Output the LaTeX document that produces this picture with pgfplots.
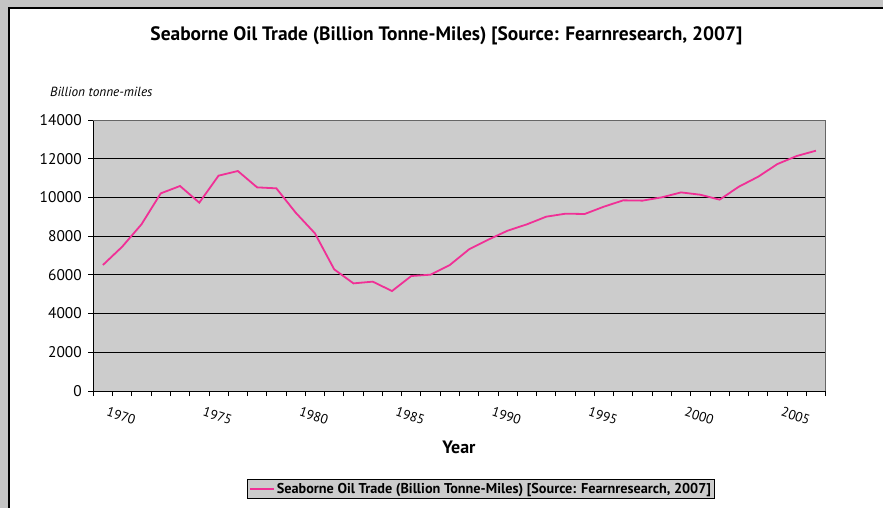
\documentclass[border=0pt]{standalone}
\usepackage{fontspec}
\setmainfont{PT Sans}
\usepackage{pgfplots}
\pgfplotsset{compat=1.18}
\definecolor{linepink}{RGB}{240,48,150}
\definecolor{plotgray}{RGB}{204,204,204}
\definecolor{framegray}{RGB}{196,196,196}
\begin{document}
\begin{tikzpicture}
\useasboundingbox (0bp,0bp) rectangle (883bp,-508bp);
\fill[framegray] (0bp,0bp) rectangle (883bp,-508bp);
\fill[white] (9bp,-8bp) rectangle (883bp,-508bp);
\draw[black,line width=1.8bp] (8.6bp,-508bp) -- (8.6bp,-7.6bp) -- (883bp,-7.6bp);
\node[font=\fontsize{19.5}{22}\selectfont\bfseries] at (446.5bp,-36bp) {Seaborne Oil Trade (Billion Tonne-Miles) [Source: Fearnresearch, 2007]};
\node[font=\fontsize{13.3}{15}\selectfont\itshape, anchor=west, inner sep=0pt] at (50bp,-92bp) {Billion tonne-miles};
\node[font=\fontsize{18}{21}\selectfont\bfseries] at (459bp,-447bp) {Year};
\begin{axis}[
 at={(93.3bp,-391bp)}, anchor=south west, scale only axis,
 width=732.3bp, height=271bp,
 xmin=1968.5, xmax=2006.5, ymin=0, ymax=14000,
 axis background/.style={fill=plotgray},
 axis x line*=bottom, axis y line*=left,
 axis line style={black, line width=0.9bp},
 tick align=outside, major tick length=5bp,
 tick style={black, line width=0.8bp},
 ytick={0,2000,...,14000},
 ymajorgrids, grid style={black, line width=0.8bp},
 scaled y ticks=false,
 /pgf/number format/assume math mode=true,
 y tick label style={/pgf/number format/set thousands separator={}, font=\fontsize{15.5}{17}\selectfont, xshift=-3bp},
 xtick={1968.5,1969.5,...,2006.5},
 xticklabels={},
 extra x ticks={1970,1975,1980,1985,1990,1995,2000,2005},
 extra x tick labels={1970,1975,1980,1985,1990,1995,2000,2005},
 extra x tick style={major tick length=0pt, xticklabel style={yshift=-25bp, xshift=-1bp, rotate=-18, anchor=center, font=\fontsize{13.5}{15}\selectfont}},
 legend style={at={(0.5294,-0.3616)}, anchor=center, fill=plotgray, draw=black, line width=0.8bp, font=\fontsize{14.3}{16}\selectfont\bfseries, inner sep=1.5bp},
 legend image code/.code={\draw[#1] (0bp,0bp) -- (24bp,0bp);},
 clip=false,
]
\draw[gray!80!black, line width=0.8bp] (rel axis cs:0,1) -- (rel axis cs:1,1) -- (rel axis cs:1,0);
\addplot[linepink, line width=1.8bp] coordinates {
(1969,6510) (1970,7455) (1971,8610) (1972,10210) (1973,10590) (1974,9730)
(1975,11125) (1976,11365) (1977,10520) (1978,10470) (1979,9215) (1980,8145)
(1981,6285) (1982,5560) (1983,5650) (1984,5165) (1985,5940) (1986,6010)
(1987,6510) (1988,7320) (1989,7820) (1990,8283) (1991,8610) (1992,9005)
(1993,9160) (1994,9145) (1995,9525) (1996,9850) (1997,9835) (1998,10005)
(1999,10260) (2000,10140) (2001,9885) (2002,10555) (2003,11070) (2004,11725)
(2005,12140) (2006,12415)
};
\addlegendentry{Seaborne Oil Trade (Billion Tonne-Miles) [Source: Fearnresearch, 2007]}
\end{axis}
\end{tikzpicture}
\end{document}
